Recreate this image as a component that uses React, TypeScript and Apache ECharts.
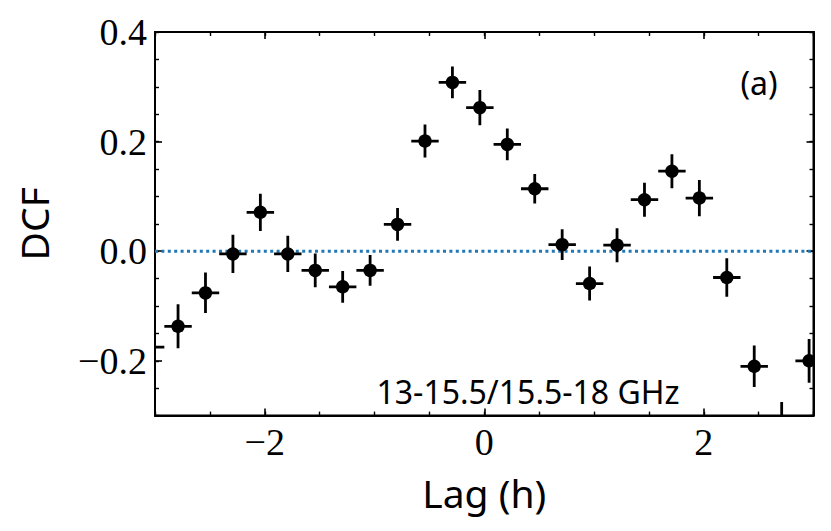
import React, { useEffect, useRef } from "react";
import * as echarts from "echarts";

// Data
const lags = [-3.04, -2.79, -2.54, -2.29, -2.04, -1.79, -1.54, -1.29, -1.04, -0.79, -0.54, -0.29, -0.04, 0.21, 0.46, 0.71, 0.96, 1.21, 1.46, 1.71, 1.96, 2.21, 2.46, 2.71, 2.96];
const dcf = [-0.175, -0.137, -0.076, -0.005, 0.071, -0.005, -0.035, -0.065, -0.035, 0.049, 0.201, 0.308, 0.262, 0.195, 0.114, 0.012, -0.059, 0.011, 0.094, 0.146, 0.097, -0.048, -0.21, -0.318, -0.2];
const dcfErr = [0.042, 0.04, 0.037, 0.035, 0.034, 0.033, 0.031, 0.029, 0.028, 0.03, 0.03, 0.029, 0.032, 0.029, 0.027, 0.028, 0.031, 0.031, 0.031, 0.031, 0.033, 0.035, 0.038, 0.043, 0.04];
const lagErr = [0.125];
const xMajorTicks = [-2, 0, 2];
const yMajorTicks = [-0.2, 0, 0.2, 0.4];
const xRange = [-3, 3];
const yRange = [-0.3, 0.4];
const zeroLine = [[-3, 0], [3, 0]];
const panelLabel = "(a)";
const bandLabel = "13-15.5/15.5-18 GHz";
const xTitle = "Lag (h)";
const yTitle = "DCF";

const SERIF = "Liberation Serif";
const SANS = "Noto Sans";

const fmt = (v: number, d: number) => {
  const r = Math.abs(v) < 1e-9 ? 0 : v;
  return (r < 0 ? "\u2212" : "") + Math.abs(r).toFixed(d);
};

export default function App() {
  const ref = useRef<HTMLDivElement>(null);
  useEffect(() => {
    if (!ref.current) return;
    const chart = echarts.init(ref.current, null, { renderer: "svg" });
    const mkLine = () => ({ show: true, onZero: false, lineStyle: { color: "#000", width: 2 } });
    const noLine = () => ({ show: false, onZero: false });
    const mkMajor = (vals: number[]) => ({
      show: true, inside: true, length: 7, customValues: vals.slice(), lineStyle: { color: "#000", width: 1.6 },
    });
    const mkMinor = () => ({ show: true, inside: true, length: 4, lineStyle: { color: "#000", width: 1.4 } });
    const noLabel = () => ({ show: false });
    const xBase = () => ({ type: "value", min: xRange[0], max: xRange[1], splitLine: { show: false }, gridIndex: 0 });
    const yBase = () => ({ type: "value", min: yRange[0], max: yRange[1], splitLine: { show: false }, gridIndex: 0 });

    const option: any = {
      animation: false,
      grid: {
        left: 155,
        top: 32,
        right: 17.5,
        bottom: 115.4,
        containLabel: false,
        show: true,
        borderColor: "#000",
        borderWidth: 2,
        backgroundColor: "transparent",
      },
      xAxis: [
        {
          ...xBase(),
          position: "bottom",
          interval: 0.5,
          axisLine: mkLine(),
          axisTick: mkMajor(xMajorTicks),
          axisLabel: {
            customValues: xMajorTicks.slice(),
            formatter: (v: number) => fmt(v, 0),
            fontFamily: SERIF,
            fontSize: 38,
            color: "#000",
            margin: 7,
          },
          name: xTitle,
          nameLocation: "middle",
          nameGap: 77,
          nameTextStyle: { fontFamily: SANS, fontSize: 39, color: "#000", verticalAlign: "middle" },
        },
        { ...xBase(), position: "bottom", interval: 0.5, axisLine: noLine(), axisTick: mkMinor(), axisLabel: noLabel() },
        { ...xBase(), position: "top", interval: 0.5, axisLine: mkLine(), axisTick: mkMajor(xMajorTicks), axisLabel: noLabel() },
        { ...xBase(), position: "top", interval: 0.5, axisLine: noLine(), axisTick: mkMinor(), axisLabel: noLabel() },
      ],
      yAxis: [
        {
          ...yBase(),
          position: "left",
          interval: 0.05,
          axisLine: mkLine(),
          axisTick: mkMajor(yMajorTicks),
          axisLabel: {
            customValues: yMajorTicks.slice(),
            formatter: (v: number) => fmt(v, 1),
            fontFamily: SERIF,
            fontSize: 38,
            color: "#000",
            margin: 8,
            padding: [6, 0, 0, 0],
          },
          name: yTitle,
          nameLocation: "middle",
          nameGap: 122,
          nameRotate: 90,
          nameTextStyle: { fontFamily: SANS, fontSize: 39, color: "#000", verticalAlign: "middle" },
        },
        { ...yBase(), position: "left", interval: 0.05, axisLine: noLine(), axisTick: mkMinor(), axisLabel: noLabel() },
        { ...yBase(), position: "right", interval: 0.05, axisLine: mkLine(), axisTick: mkMajor(yMajorTicks), axisLabel: noLabel() },
        { ...yBase(), position: "right", interval: 0.05, axisLine: noLine(), axisTick: mkMinor(), axisLabel: noLabel() },
      ],
      series: [
        {
          type: "line",
          xAxisIndex: 0,
          yAxisIndex: 0,
          data: zeroLine,
          symbol: "none",
          silent: true,
          z: 1,
          lineStyle: { color: "#1f77b4", width: 3, type: [3, 3.4] },
        },
        {
          type: "custom",
          xAxisIndex: 0,
          yAxisIndex: 0,
          clip: true,
          z: 5,
          data: lags.map((x, i) => [x, dcf[i], dcfErr[i]]),
          encode: { x: 0, y: 1 },
          renderItem: (params: any, api: any) => {
            const x = api.value(0);
            const y = api.value(1);
            const e = api.value(2);
            const cs = params.coordSys;
            const x0 = cs.x, x1 = cs.x + cs.width, y0 = cs.y, y1 = cs.y + cs.height;
            const c = api.coord([x, y]);
            const t = api.coord([x, y + e]);
            const b = api.coord([x, y - e]);
            const l = api.coord([x - lagErr[0], y]);
            const r = api.coord([x + lagErr[0], y]);
            const children: any[] = [];
            const st = { stroke: "#000", lineWidth: 2.8 };
            if (c[0] >= x0 && c[0] <= x1) {
              const ya = Math.max(Math.min(t[1], b[1]), y0);
              const yb = Math.min(Math.max(t[1], b[1]), y1);
              if (yb > ya) children.push({ type: "line", shape: { x1: c[0], y1: ya, x2: c[0], y2: yb }, style: st });
            }
            if (c[1] >= y0 && c[1] <= y1) {
              const xa = Math.max(l[0], x0);
              const xb = Math.min(r[0], x1);
              if (xb > xa) children.push({ type: "line", shape: { x1: xa, y1: c[1], x2: xb, y2: c[1] }, style: st });
            }
            if (c[0] >= x0 && c[0] <= x1 && c[1] >= y0 && c[1] <= y1) {
              children.push({ type: "circle", shape: { cx: c[0], cy: c[1], r: 6.7 }, style: { fill: "#000" } });
            }
            return { type: "group", children };
          },
        },
      ],
      graphic: [
        {
          type: "text",
          x: 759,
          y: 82,
          style: { text: panelLabel, font: "32px Noto Sans", fill: "#000", textAlign: "center", textVerticalAlign: "middle" },
        },
        {
          type: "text",
          x: 528,
          y: 407,
          style: { text: bandLabel, font: "32px Noto Sans", fill: "#000", textAlign: "center", textVerticalAlign: "bottom" },
        },
      ],
    };
    chart.setOption(option);
    return () => chart.dispose();
  }, []);
  return <div ref={ref} style={{ position: "absolute", left: 0, top: 0, width: 831, height: 531 }} />;
}
